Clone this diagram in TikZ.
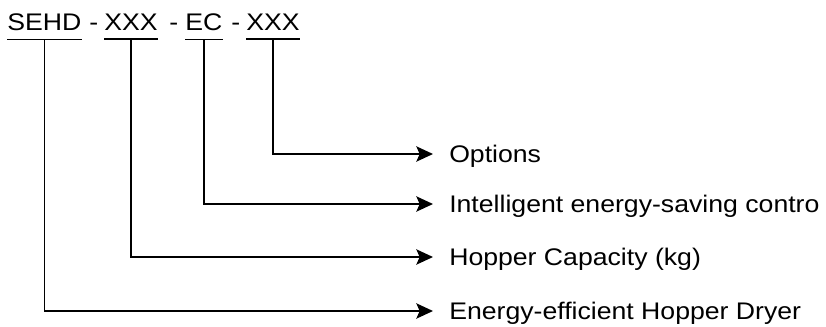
\documentclass[tikz,border=0pt]{standalone}
\usepackage{fontspec}
\setmainfont[FakeStretch=1.11]{Liberation Sans}
\usepackage{tikz}
\usetikzlibrary{arrows.meta,positioning}
\tikzset{
  code_part/.style={inner xsep=0pt,inner ysep=6.75pt,anchor=base west,
    font=\fontsize{18}{21}\selectfont},
  code_dash/.style={inner sep=0pt,anchor=base west,
    font=\fontsize{18}{21}\selectfont},
  lbl_text/.style={inner xsep=12pt,inner ysep=0pt,anchor=west,
    text height=12.9pt,text depth=0pt,
    font=\fontsize{18}{21}\selectfont},
  uline/.style={line width=1.4pt,draw=black},
  arr/.style={-{Stealth[length=12.5pt,width=11.5pt,inset=2.5pt]},
    line width=1.1pt,draw=black},
}

\begin{document}
\begin{tikzpicture}[x=0.75pt,y=-0.75pt]
  \useasboundingbox (0,0) rectangle (826,326);
  % model code
  \node (sehd)  [code_part] at (7,30)   {SEHD};
  \node (dsh1)  [code_dash] at (89,30)  {-};
  \node (cap)   [code_part] at (104,30) {XXX};
  \node (dsh2)  [code_dash] at (169,30) {-};
  \node (ec)    [code_part] at (185,30) {EC};
  \node (dsh3)  [code_dash] at (231,30) {-};
  \node (opt)   [code_part] at (246,30) {XXX};
  \foreach \n in {sehd,cap,ec,opt}
    \draw[uline] (\n.south west) -- (\n.south east);
  % meanings
  \node (l_opt) [lbl_text] at (433,154) {Options};
  \node (l_ec)  [lbl_text] at (433,204) {Intelligent energy-saving contro};
  \node (l_cap) [lbl_text] at (433,257) {Hopper Capacity (kg)};
  \node (l_sehd)[lbl_text] at (433,311) {Energy-efficient Hopper Dryer};
  \draw[arr] (opt.south)  |- (l_opt.west);
  \draw[arr] (ec.south)   |- (l_ec.west);
  \draw[arr] (cap.south)  |- (l_cap.west);
  \draw[arr] (sehd.south) |- (l_sehd.west);
\end{tikzpicture}
\end{document}
